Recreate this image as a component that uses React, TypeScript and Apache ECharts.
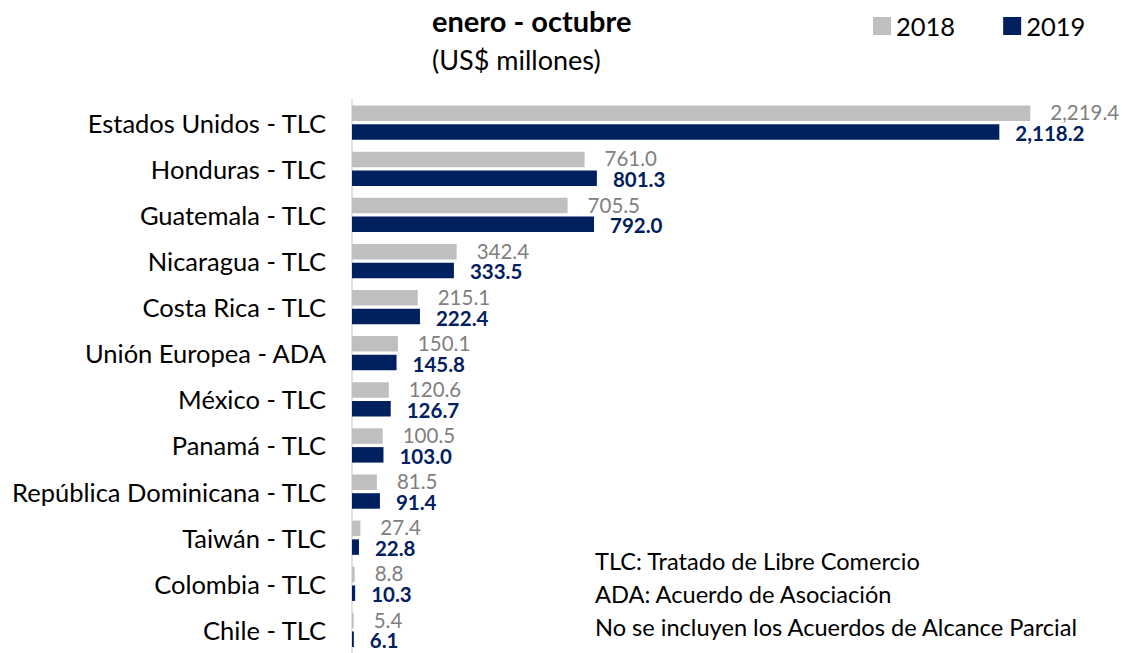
import React, { useEffect, useRef } from "react";
import * as echarts from "echarts";

const categories = [
  "Estados Unidos - TLC",
  "Honduras - TLC",
  "Guatemala - TLC",
  "Nicaragua - TLC",
  "Costa Rica - TLC",
  "Unión Europea - ADA",
  "México - TLC",
  "Panamá - TLC",
  "República Dominicana - TLC",
  "Taiwán - TLC",
  "Colombia - TLC",
  "Chile - TLC",
];
const values2018 = [2219.4, 761.0, 705.5, 342.4, 215.1, 150.1, 120.6, 100.5, 81.5, 27.4, 8.8, 5.4];
const values2019 = [2118.2, 801.3, 792.0, 333.5, 222.4, 145.8, 126.7, 103.0, 91.4, 22.8, 10.3, 6.1];
const seriesNames = ["2018", "2019"];
const titleText = "enero - octubre";
const subtitleText = "(US$ millones)";
const notes = [
  "TLC: Tratado de Libre Comercio",
  "ADA: Acuerdo de Asociación",
  "No se incluyen los Acuerdos de Alcance Parcial",
];

const FONT = "Lato";
const fmt = (v: number) =>
  v.toLocaleString("en-US", { minimumFractionDigits: 1, maximumFractionDigits: 1 });

export default function App() {
  const ref = useRef<HTMLDivElement>(null);
  useEffect(() => {
    if (!ref.current) return;
    const chart = echarts.init(ref.current, undefined, { renderer: "svg" });
    chart.setOption({
      animation: false,
      textStyle: { fontFamily: FONT },
      legend: {
        left: 873,
        top: 13,
        padding: 0,
        itemWidth: 18,
        itemHeight: 18,
        itemGap: 48,
        icon: "rect",
        textStyle: { fontFamily: FONT, fontSize: 25.5, color: "#000" },
        data: seriesNames,
      },
      graphic: [
        {
          type: "text",
          x: 432,
          y: 20,
          style: { text: titleText, font: `bold 29px ${FONT}`, fill: "#000", verticalAlign: "middle" },
        },
        {
          type: "text",
          x: 432,
          y: 59,
          style: { text: subtitleText, font: `27px ${FONT}`, fill: "#000", verticalAlign: "middle" },
        },
        ...notes.map((t, i) => ({
          type: "text",
          x: 595,
          y: 561 + i * 33,
          style: { text: t, font: `23.6px ${FONT}`, fill: "#000", verticalAlign: "middle" },
        })),
      ],
      grid: { left: 352, right: 11, top: 99.6, bottom: -5.6, containLabel: false },
      xAxis: {
        type: "value",
        min: 0,
        max: 2500,
        show: false,
      },
      yAxis: {
        type: "category",
        inverse: true,
        data: categories,
        axisLine: { show: true, lineStyle: { color: "#d9d9d9", width: 1.5 } },
        axisTick: { show: false },
        axisLabel: { fontFamily: FONT, fontSize: 25.5, color: "#000", margin: 26 },
      },
      series: [
        {
          name: seriesNames[0],
          type: "bar",
          data: values2018,
          barWidth: 15.5,
          barGap: "21%",
          itemStyle: { color: "#bfbfbf" },
          label: {
            show: true,
            position: "right",
            distance: 20,
            offset: [0, -1],
            color: "#808080",
            fontFamily: FONT,
            fontSize: 20.5,
            lineHeight: 17,
            formatter: (p: any) => fmt(p.value),
          },
        },
        {
          name: seriesNames[1],
          type: "bar",
          data: values2019,
          barWidth: 15.5,
          barGap: "21%",
          itemStyle: { color: "#002060" },
          label: {
            show: true,
            position: "right",
            distance: 16,
            offset: [0, 1],
            color: "#002060",
            fontWeight: "bold",
            fontFamily: FONT,
            fontSize: 20.5,
            lineHeight: 17,
            formatter: (p: any) => fmt(p.value),
          },
        },
      ],
    });
    return () => chart.dispose();
  }, []);
  return (
    <div
      ref={ref}
      style={{ position: "fixed", left: 0, top: 0, width: 1127, height: 653, background: "#fff" }}
    />
  );
}
